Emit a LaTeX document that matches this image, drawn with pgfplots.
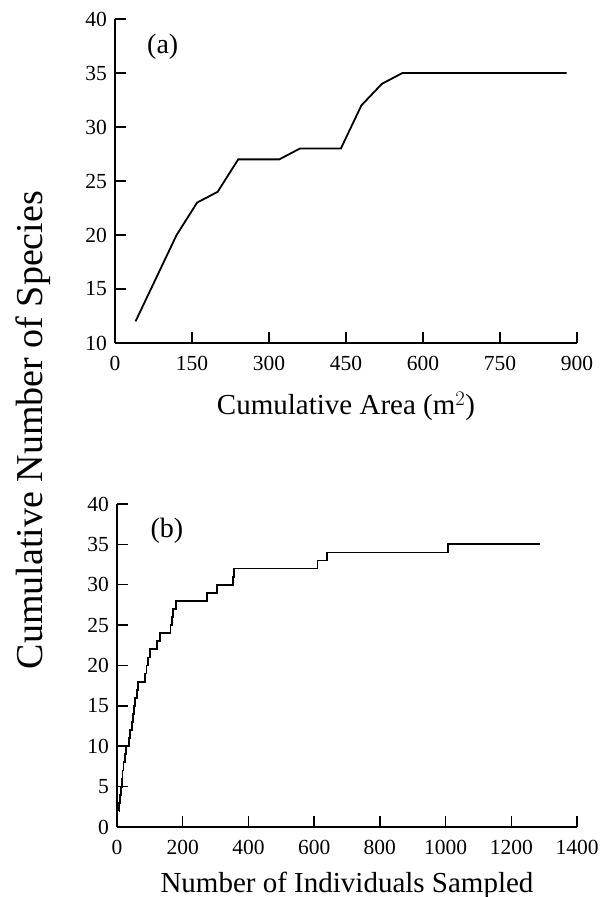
\documentclass[border=0pt]{standalone}
\usepackage{pgfplots}
\pgfplotsset{compat=1.18}
\usepackage{fontspec}
\setmainfont{Liberation Serif}

\pgfplotsset{
  panel/.style={
    scale only axis,
    axis x line=bottom,
    axis y line=left,
    axis line style={-, line width=1.7pt},
    tick align=inside,
    major tick length=11pt,
    tick style={line width=1.5pt, black},
    /pgf/number format/assume math mode=true,
    /pgf/number format/set thousands separator={},
    tick label style={font=\fontsize{21.5}{22}\selectfont, inner sep=0pt},
    xticklabel style={anchor=north, yshift=-13pt},
    yticklabel style={anchor=east, xshift=-8pt},
    xlabel style={font=\fontsize{29}{31}\selectfont,
      at={(axis description cs:0.5,0)}, anchor=base},
    clip=false,
  },
}

\begin{document}
\begin{tikzpicture}
\useasboundingbox (0,0) rectangle (606pt,897pt);

% (a) species vs. cumulative area
\begin{axis}[
    panel,
    at={(115pt,554pt)}, anchor=south west,
    width=462pt, height=324pt,
    xmin=0, xmax=900, ymin=10, ymax=40,
    xtick={0,150,...,900},
    ytick={10,15,...,40},
    xlabel={Cumulative Area (m$^{2}$)},
    xlabel style={yshift=-72pt},
  ]
  \addplot[black, line width=1.8pt] coordinates {
    (40,12) (80,16) (120,20) (160,23) (200,24) (240,27) (280,27)
    (320,27) (360,28) (400,28) (440,28) (480,32) (520,34) (560,35)
    (880,35)
  };
  \node[font=\fontsize{28}{30}\selectfont] at (axis cs:93,37.4) {(a)};
\end{axis}

% (b) species vs. number of individuals
\begin{axis}[
    panel,
    at={(117pt,70pt)}, anchor=south west,
    width=460pt, height=323pt,
    xmin=0, xmax=1400, ymin=0, ymax=40,
    xtick={0,200,...,1400},
    ytick={0,5,...,40},
    xlabel={Number of Individuals Sampled},
    xlabel style={yshift=-65pt},
  ]
  \addplot[black, line width=1.8pt, const plot] coordinates {
    (5,2) (7,3) (9,4) (12,5) (14,6) (17,7) (20,8) (24,9) (28,10)
    (37,11) (39,12) (46,13) (49,14) (52,15) (55,16) (60,17) (64,18)
    (86,19) (90,20) (95,21) (100,22) (122,23) (132,24) (163,25)
    (167,26) (171,27) (180,28) (275,29) (305,30) (352,31) (357,32)
    (610,33) (640,34) (1008,35) (1287,35)
  };
  \node[font=\fontsize{28}{30}\selectfont] at (axis cs:152,36.7) {(b)};
\end{axis}

\node[rotate=90, anchor=base, font=\fontsize{38}{40}\selectfont]
  at (42pt,467pt) {Cumulative Number of Species};
\end{tikzpicture}
\end{document}
